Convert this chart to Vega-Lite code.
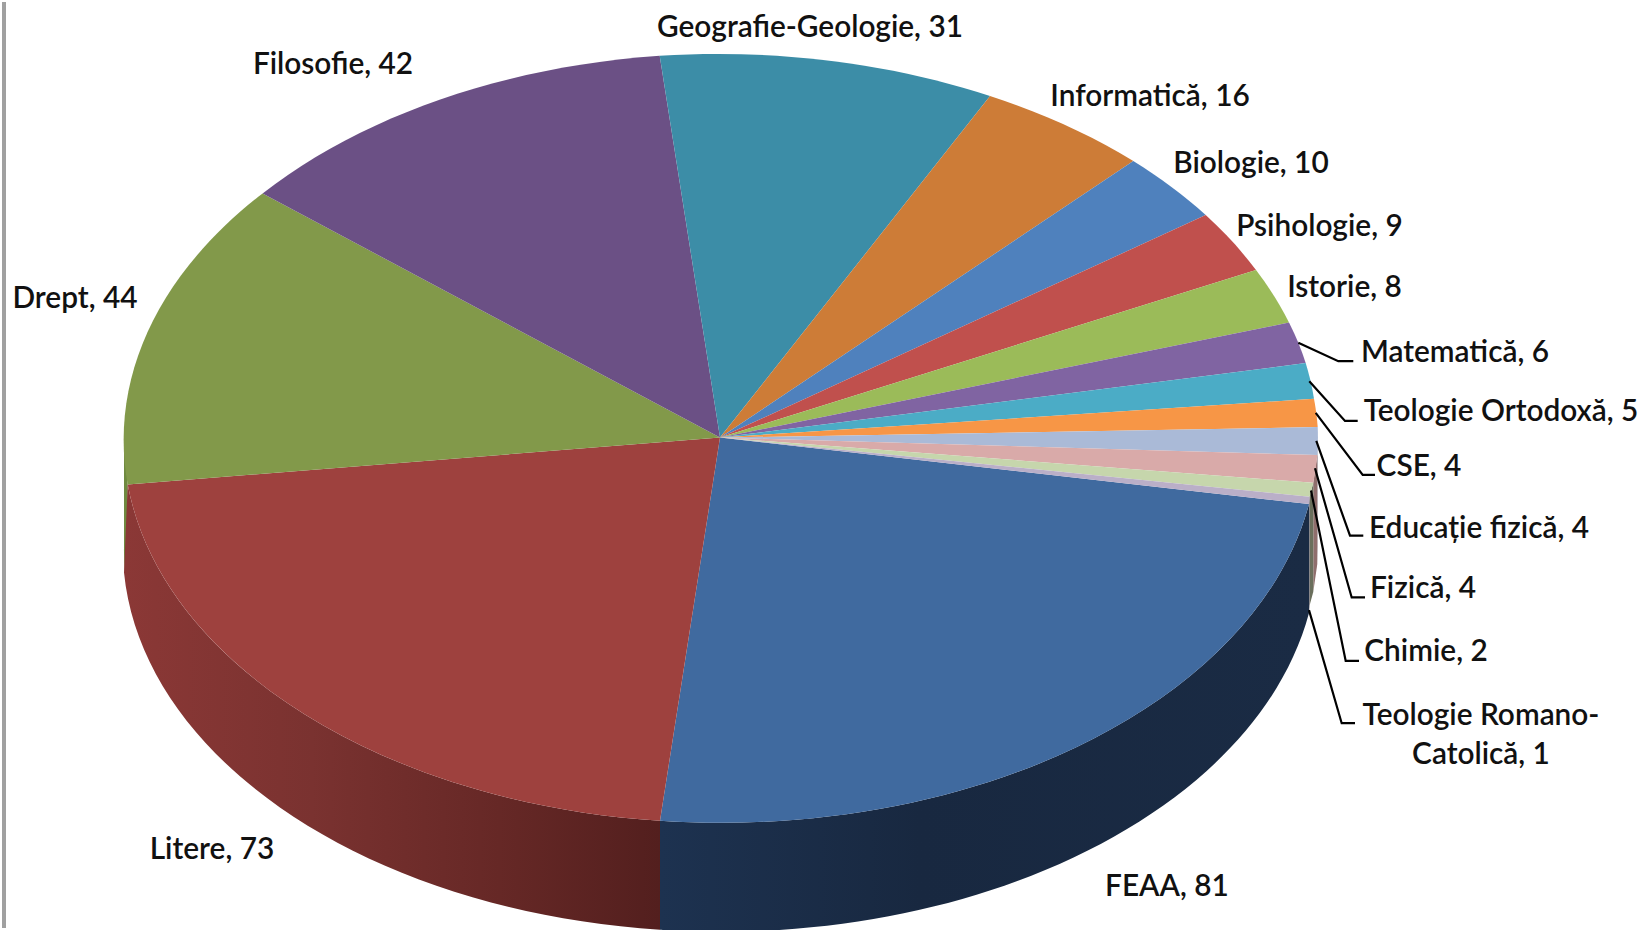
{
"$schema":"https://vega.github.io/schema/vega-lite/v6.json",
"width":1647,"height":930,"padding":0,
"autosize":{"type":"fit","contains":"padding"},
"background":"white",
"config":{"view":{"stroke":null}},
"resolve":{"scale":{"shape":"independent","color":"independent"}},
"datasets":{
"slices":[
{"faculty":"FEAA","students":81,"label":"FEAA, 81","labelX":447,"labelY":451},
{"faculty":"Litere","students":73,"label":"Litere, 73","labelX":-508,"labelY":414.5},
{"faculty":"Drept","students":44,"label":"Drept, 44","labelX":-645,"labelY":-139.5},
{"faculty":"Filosofie","students":42,"label":"Filosofie, 42","labelX":-387,"labelY":-374.5},
{"faculty":"Geografie-Geologie","students":31,"label":"Geografie-Geologie, 31","labelX":90,"labelY":-411.5},
{"faculty":"Informatică","students":16,"label":"Informatică, 16","labelX":430,"labelY":-342.5},
{"faculty":"Biologie","students":10,"label":"Biologie, 10","labelX":531,"labelY":-274.5},
{"faculty":"Psihologie","students":9,"label":"Psihologie, 9","labelX":599.5,"labelY":-211.5},
{"faculty":"Istorie","students":8,"label":"Istorie, 8","labelX":624.5,"labelY":-150.5},
{"faculty":"Matematică","students":6,"label":"Matematică, 6","labelX":735,"labelY":-84.5},
{"faculty":"Teologie Ortodoxă","students":5,"label":"Teologie Ortodoxă, 5","labelX":781,"labelY":-25.5},
{"faculty":"CSE","students":4,"label":"CSE, 4","labelX":699,"labelY":29.5},
{"faculty":"Educație fizică","students":4,"label":"Educație fizică, 4","labelX":759,"labelY":91.5},
{"faculty":"Fizică","students":4,"label":"Fizică, 4","labelX":703,"labelY":152.5},
{"faculty":"Chimie","students":2,"label":"Chimie, 2","labelX":706,"labelY":215.5},
{"faculty":"Teologie Romano-Catolică","students":1,"label":"Teologie Romano-\nCatolică, 1","labelX":761,"labelY":279.5}
],
"leaders":[
{"faculty":"Matematică","step":1,"px":578.3,"py":-95.2},{"faculty":"Matematică","step":2,"px":618.3,"py":-76.8},{"faculty":"Matematică","step":3,"px":633.3,"py":-76.8},
{"faculty":"Teologie Ortodoxă","step":1,"px":589.3,"py":-56.5},{"faculty":"Teologie Ortodoxă","step":2,"px":625,"py":-16.8},{"faculty":"Teologie Ortodoxă","step":3,"px":637.7,"py":-16.8},
{"faculty":"CSE","step":1,"px":595.7,"py":-24.8},{"faculty":"CSE","step":2,"px":642.7,"py":37.5},{"faculty":"CSE","step":3,"px":655,"py":37.5},
{"faculty":"Educație fizică","step":1,"px":596.3,"py":3.2},{"faculty":"Educație fizică","step":2,"px":630,"py":98.5},{"faculty":"Educație fizică","step":3,"px":643.3,"py":98.5},
{"faculty":"Fizică","step":1,"px":595,"py":30.8},{"faculty":"Fizică","step":2,"px":631.7,"py":160.5},{"faculty":"Fizică","step":3,"px":645,"py":160.5},
{"faculty":"Chimie","step":1,"px":591,"py":53.2},{"faculty":"Chimie","step":2,"px":625.7,"py":224.2},{"faculty":"Chimie","step":3,"px":639,"py":224.2},
{"faculty":"Teologie Romano-Catolică","step":1,"px":589,"py":173.2},{"faculty":"Teologie Romano-Catolică","step":2,"px":621.7,"py":286.8},{"faculty":"Teologie Romano-Catolică","step":3,"px":635,"py":286.8}
]
},
"data":{"name":"slices"},
"encoding":{
"x":{"type":"quantitative","scale":{"domain":[-720,927],"nice":false,"zero":false},"axis":null},
"y":{"type":"quantitative","scale":{"domain":[492.5,-437.5],"nice":false,"zero":false},"axis":null}
},
"layer":[
{"mark":{"type":"rule","stroke":"#a0a0a0","strokeWidth":2.5},"encoding":{"x":{"datum":-716}}},
{"transform":[{"filter":"indexof(['Educație fizică','Fizică','Chimie','Teologie Romano-Catolică'],datum.faculty)>=0"}],
"mark":{"type":"point","filled":true,"opacity":1,"strokeWidth":0},
"encoding":{"x":{"datum":0},"y":{"datum":0},"size":{"value":4},
"shape":{"field":"faculty","type":"nominal","legend":null,"scale":{"domain":["Educație fizică","Fizică","Chimie","Teologie Romano-Catolică"],"range":["M597.7,0 L597.3,17.5 L597.3,126.5 L597.7,109 Z","M597.3,17.5 L593.3,45.2 L593.3,154.2 L597.3,126.5 Z","M593.3,45.2 L589.5,59.2 L589.5,168.2 L593.3,154.2 Z","M589.5,59.2 L589,66.5 L589,175.5 L589.5,168.2 Z"]}},
"color":{"field":"faculty","type":"nominal","legend":null,"scale":{"domain":["Educație fizică","Fizică","Chimie","Teologie Romano-Catolică"],"range":["#847f8e","#8f6e6c","#6a6f5c","#5f5a68"]}}}},
{"transform":[{"filter":"datum.faculty==='Drept'"}],
"mark":{"type":"point","filled":true,"opacity":1,"strokeWidth":0,"fill":"#6f8a40","shape":"M-592.3,46.8 L-596,0 L-596,109 A597,384 0 0 0 -592.3,155.8 Z"},
"encoding":{"x":{"datum":0},"y":{"datum":0},"size":{"value":4}}},
{"transform":[{"filter":"datum.faculty==='Litere'"}],
"mark":{"type":"point","filled":true,"opacity":1,"strokeWidth":0,"shape":"M-60,383.2 A597,384 0 0 1 -592.3,46.8 L-596,135 A597,384 0 0 0 -60,492.2 Z",
"fill":{"gradient":"linear","x1":0,"y1":0,"x2":1,"y2":0,"stops":[{"offset":0,"color":"#8b3836"},{"offset":0.35,"color":"#7a3230"},{"offset":0.7,"color":"#662826"},{"offset":1,"color":"#531f1e"}]}},
"encoding":{"x":{"datum":0},"y":{"datum":0},"size":{"value":4}}},
{"transform":[{"filter":"datum.faculty==='FEAA'"}],
"mark":{"type":"point","filled":true,"opacity":1,"strokeWidth":0,"shape":"M589,66.5 A597,384 0 0 1 -60,383.2 L-60,492.2 A597,384 0 0 0 589,175.5 Z",
"fill":{"gradient":"linear","x1":0,"y1":0,"x2":1,"y2":0,"stops":[{"offset":0,"color":"#1d3250"},{"offset":0.4,"color":"#182840"},{"offset":1,"color":"#1a2b44"}]}},
"encoding":{"x":{"datum":0},"y":{"datum":0},"size":{"value":4}}},
{"mark":{"type":"point","filled":true,"opacity":1,"strokeWidth":0},
"encoding":{"x":{"datum":0},"y":{"datum":0},"size":{"value":4},
"shape":{"field":"faculty","type":"nominal","legend":null,"scale":{
"domain":["FEAA","Litere","Drept","Filosofie","Geografie-Geologie","Informatică","Biologie","Psihologie","Istorie","Matematică","Teologie Ortodoxă","CSE","Educație fizică","Fizică","Chimie","Teologie Romano-Catolică"],
"range":[
"M0,0 L589,66.5 A597,384 0 0 1 -60,383.2 Z",
"M0,0 L-60,383.2 A597,384 0 0 1 -592.3,46.8 Z",
"M0,0 L-592.3,46.8 A597,384 0 0 1 -457.4,-244.2 Z",
"M0,0 L-457.4,-244.2 A597,384 0 0 1 -60.3,-381.8 Z",
"M0,0 L-60.3,-381.8 A597,384 0 0 1 270,-341.5 Z",
"M0,0 L270,-341.5 A597,384 0 0 1 413.3,-276.5 Z",
"M0,0 L413.3,-276.5 A597,384 0 0 1 485.7,-222.5 Z",
"M0,0 L485.7,-222.5 A597,384 0 0 1 536,-167.5 Z",
"M0,0 L536,-167.5 A597,384 0 0 1 569,-115 Z",
"M0,0 L569,-115 A597,384 0 0 1 585.7,-74.5 Z",
"M0,0 L585.7,-74.5 A597,384 0 0 1 594,-38.8 Z",
"M0,0 L594,-38.8 A597,384 0 0 1 597.7,-10.5 Z",
"M0,0 L597.7,-10.5 A597,384 0 0 1 597.3,17.5 Z",
"M0,0 L597.3,17.5 A597,384 0 0 1 593.3,45.2 Z",
"M0,0 L593.3,45.2 A597,384 0 0 1 589.5,59.2 Z",
"M0,0 L589.5,59.2 A597,384 0 0 1 589,66.5 Z"]}},
"color":{"field":"faculty","type":"nominal","legend":null,"scale":{
"domain":["FEAA","Litere","Drept","Filosofie","Geografie-Geologie","Informatică","Biologie","Psihologie","Istorie","Matematică","Teologie Ortodoxă","CSE","Educație fizică","Fizică","Chimie","Teologie Romano-Catolică"],
"range":["#406a9f","#9e413e","#82994a","#6b5085","#3c8da7","#cd7c37","#4f81bd","#c0504d","#9bbb59","#8064a2","#4bacc6","#f79646","#aabad7","#d9aaa9","#c6d6ac","#baafc8"]}}}},
{"data":{"name":"leaders"},"mark":{"type":"line","stroke":"#000000","strokeWidth":2.2,"strokeJoin":"miter"},
"encoding":{"x":{"field":"px","type":"quantitative"},"y":{"field":"py","type":"quantitative"},"detail":{"field":"faculty"},"order":{"field":"step"}}},
{"mark":{"type":"text","font":"Lato","fontSize":29.8,"fontWeight":600,"fill":"#111111","align":"center","baseline":"middle","lineBreak":"\n","lineHeight":39},
"encoding":{"x":{"field":"labelX","type":"quantitative"},"y":{"field":"labelY","type":"quantitative"},"text":{"field":"label"}}}
]
}
